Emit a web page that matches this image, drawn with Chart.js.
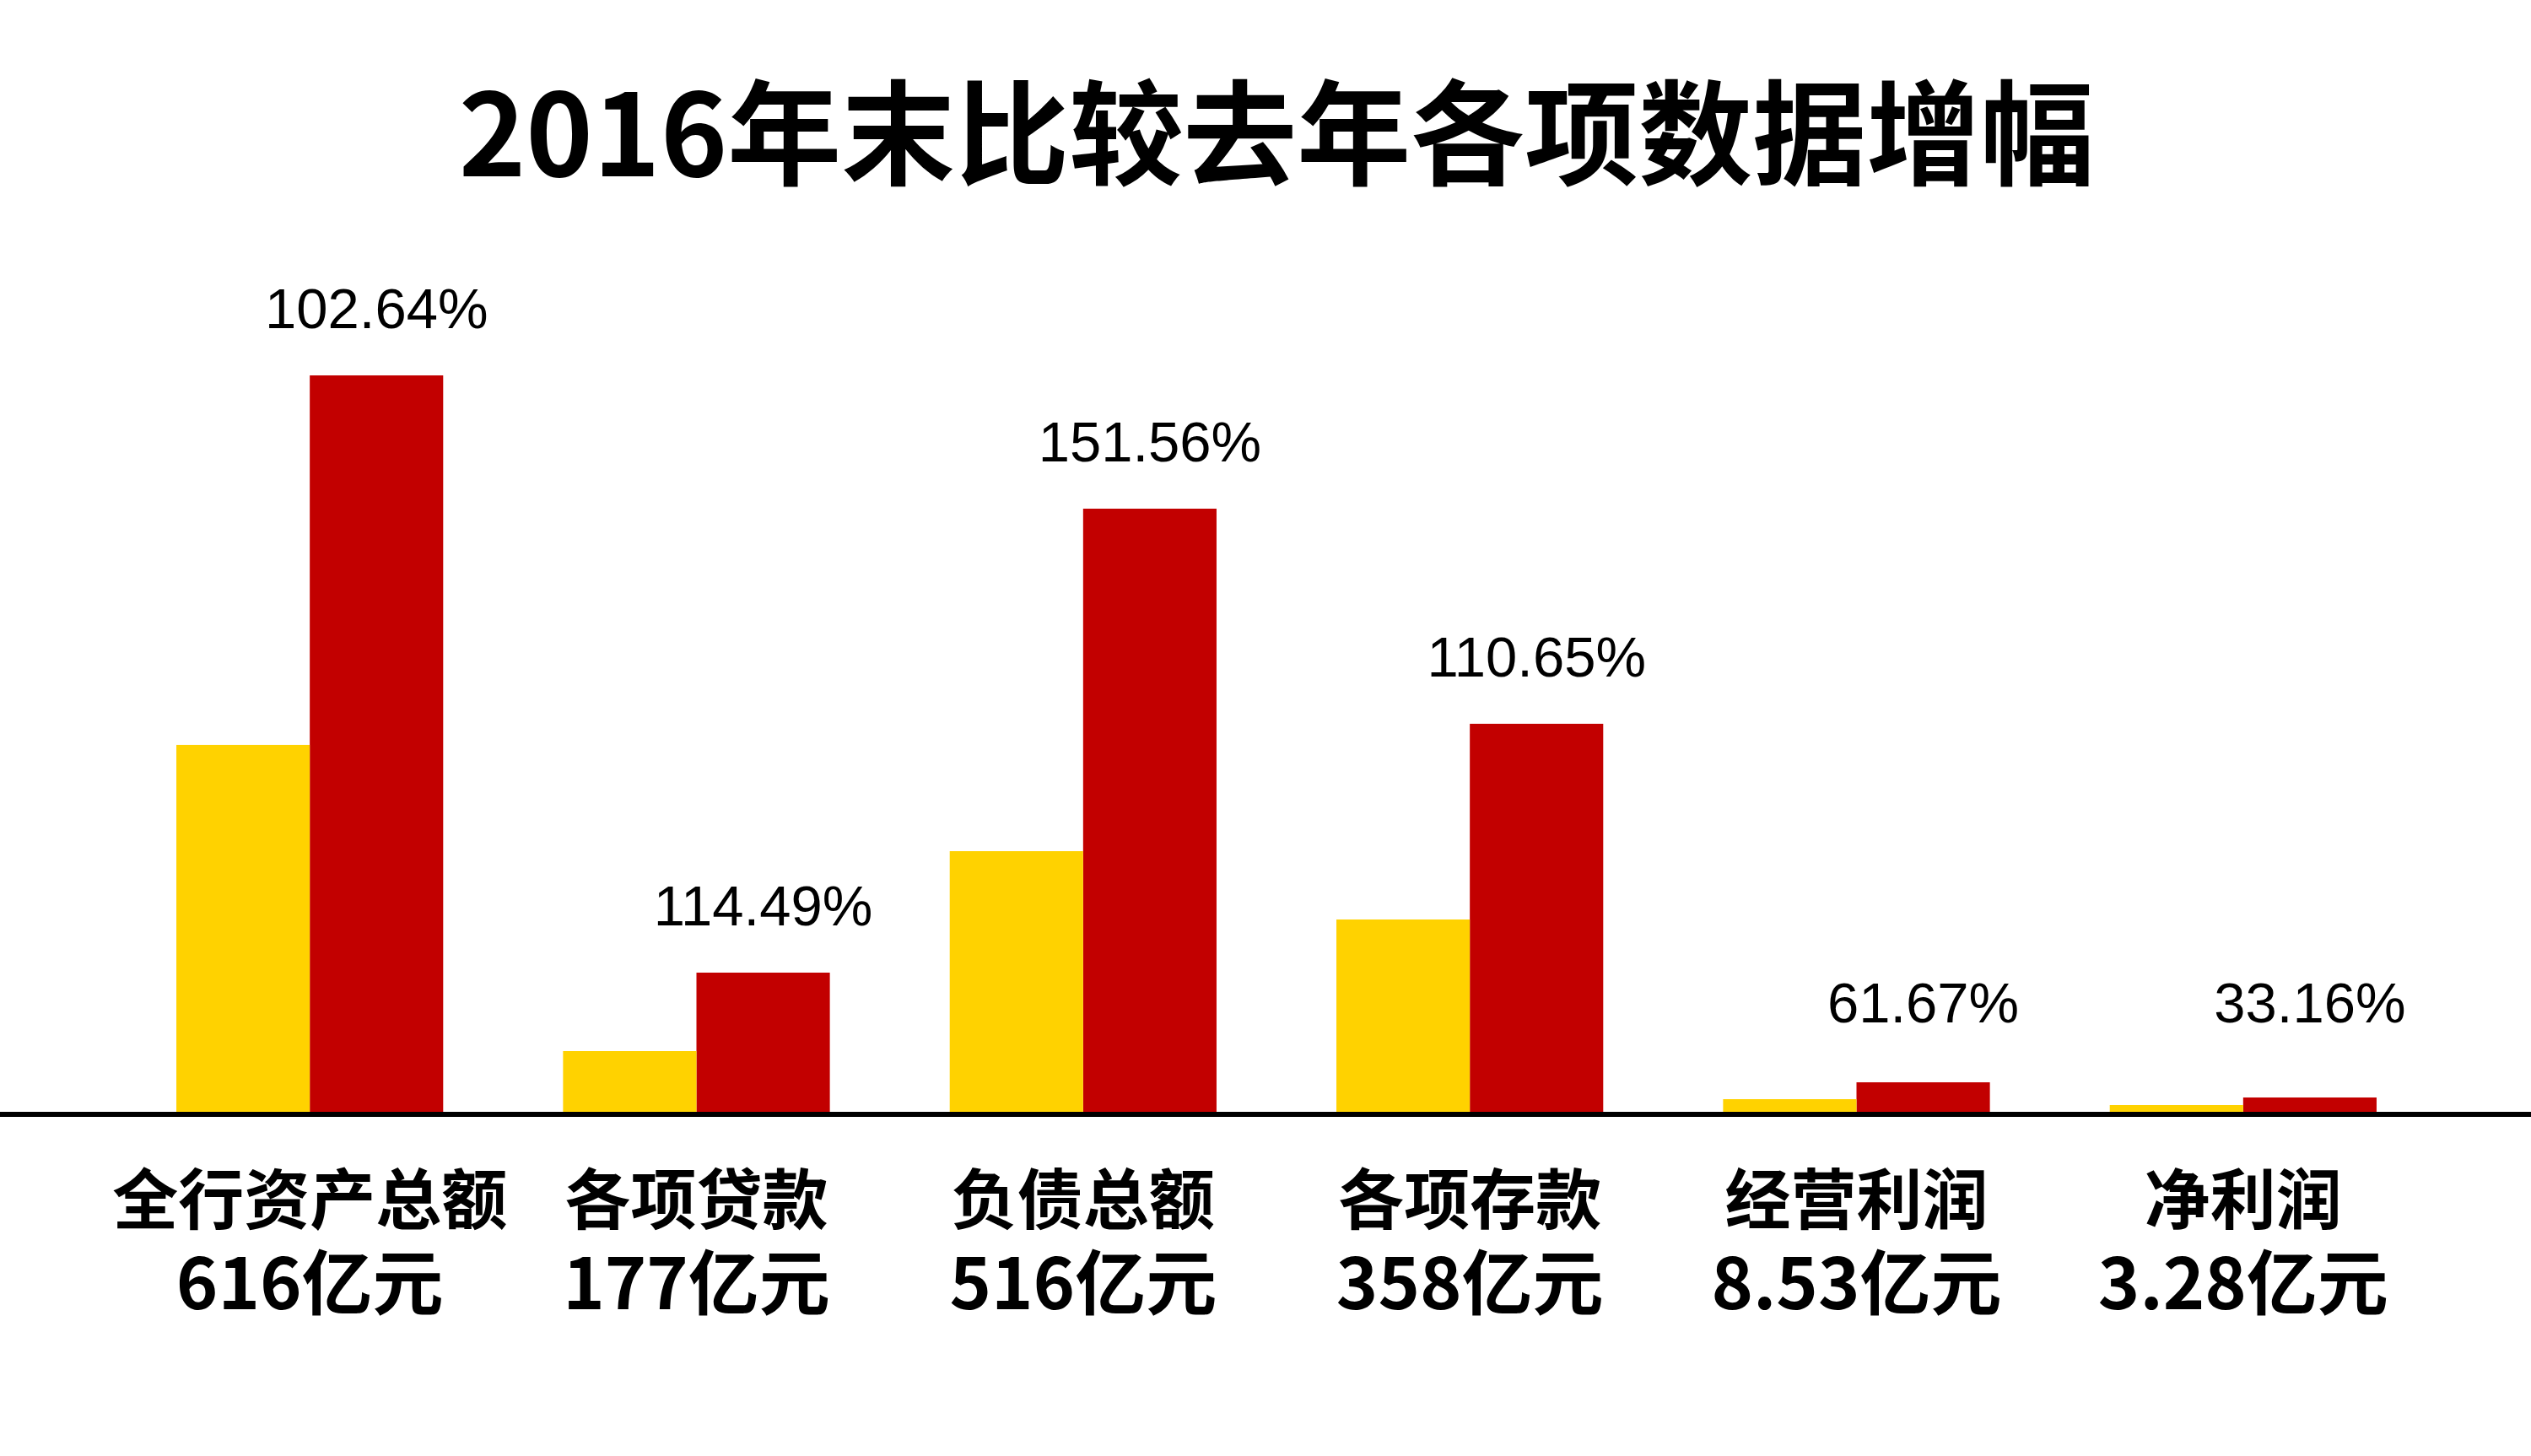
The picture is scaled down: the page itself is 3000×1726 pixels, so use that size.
<!DOCTYPE html>
<html>
<head>
<meta charset="utf-8">
<script src="https://cdn.jsdelivr.net/npm/chart.js@4.4.1/dist/chart.umd.min.js"></script>
<style>
html,body{margin:0;padding:0;background:#fff;}
#wrap{width:3000px;height:1726px;}
</style>
</head>
<body>
<div id="wrap"><canvas id="c" width="3000" height="1726"></canvas></div>
<script>
// ---- data ----
const categories = ['全行资产总额', '各项贷款', '负债总额', '各项存款', '经营利润', '净利润'];
const amounts = ['616亿元', '177亿元', '516亿元', '358亿元', '8.53亿元', '3.28亿元'];
const growthLabels = ['102.64%', '114.49%', '151.56%', '110.65%', '61.67%', '33.16%'];
const values2015 = [435, 72, 309, 228, 15, 8];
const values2016 = [873, 165, 715, 460, 35, 17];
const titleText = '2016年末比较去年各项数据增幅';

const CJK = '"Noto Sans CJK SC", "Noto Sans", sans-serif';

const baselinePlugin = {
  id: 'baseline',
  afterDatasetsDraw(chart) {
    const ctx = chart.ctx;
    const y = chart.scales.y.getPixelForValue(0);
    ctx.save();
    ctx.fillStyle = '#000';
    ctx.fillRect(0, y, chart.width, 6);
    ctx.restore();
  }
};

const growthPlugin = {
  id: 'growthLabels',
  afterDatasetsDraw(chart) {
    const ctx = chart.ctx;
    const meta = chart.getDatasetMeta(1);
    const zeroY = chart.scales.y.getPixelForValue(0);
    ctx.save();
    ctx.fillStyle = '#000';
    ctx.font = '67px "Liberation Sans", Arial, sans-serif';
    ctx.textAlign = 'center';
    ctx.textBaseline = 'alphabetic';
    meta.data.forEach((el, i) => {
      const y = Math.min(el.y - 56, zeroY - 106);
      ctx.fillText(growthLabels[i], el.x, y);
    });
    ctx.restore();
  }
};

new Chart(document.getElementById('c'), {
  type: 'bar',
  data: {
    labels: categories,
    datasets: [
      { label: '2015', data: values2015, backgroundColor: '#FFD200', borderWidth: 0,
        categoryPercentage: 0.69, barPercentage: 1.0 },
      { label: '2016', data: values2016, backgroundColor: '#C20000', borderWidth: 0,
        categoryPercentage: 0.69, barPercentage: 1.0 }
    ]
  },
  options: {
    responsive: false,
    devicePixelRatio: 1,
    animation: false,
    layout: { padding: { left: 138, right: 112, top: 0, bottom: 148 } },
    plugins: {
      legend: { display: false },
      tooltip: { enabled: false },
      title: {
        display: true,
        text: titleText,
        color: '#000',
        font: { family: CJK, size: 135, weight: 'bold' },
        padding: { top: 77, bottom: 79 }
      }
    },
    scales: {
      x: {
        type: 'category',
        position: 'bottom',
        offset: true,
        weight: 0,
        grid: { display: false, drawTicks: false },
        border: { display: false },
        ticks: { color: '#000', font: { family: CJK, size: 78, weight: 'bold' },
                 padding: 57, maxRotation: 0, minRotation: 0, autoSkip: false },
        afterFit(scale) { scale.height = 150; }
      },
      x2: {
        type: 'category',
        labels: amounts,
        position: 'bottom',
        offset: true,
        weight: 1,
        grid: { display: false, drawTicks: false },
        border: { display: false },
        ticks: { color: '#000', font: { family: CJK, size: 84, weight: 'bold' },
                 padding: 2, maxRotation: 0, minRotation: 0, autoSkip: false },
        afterFit(scale) { scale.height = 110; }
      },
      y: {
        display: false,
        min: 0,
        max: 1000
      }
    }
  },
  plugins: [baselinePlugin, growthPlugin]
});
</script>
</body>
</html>
